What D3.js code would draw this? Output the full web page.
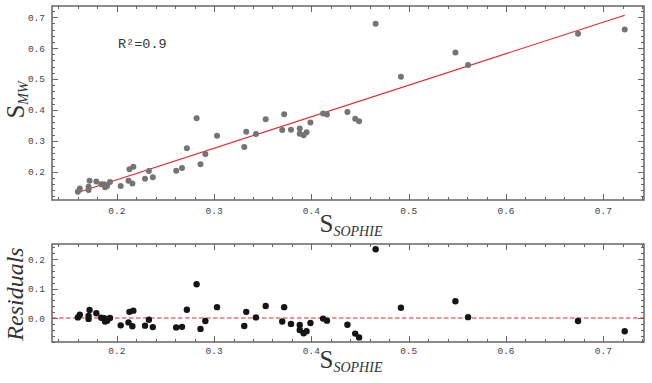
<!DOCTYPE html>
<html><head><meta charset="utf-8">
<script src="https://cdn.jsdelivr.net/npm/d3@7"></script>
<style>body{margin:0;background:#fff}svg{display:block}</style>
</head><body>
<script>
// data
const sSophie = [0.160,0.162,0.171,0.171,0.172,0.179,0.184,0.187,0.188,0.190,0.193,0.204,0.212,0.213,0.216,0.217,0.229,0.233,0.237,0.261,0.267,0.272,0.282,0.286,0.291,0.303,0.331,0.333,0.343,0.353,0.370,0.372,0.379,0.388,0.388,0.392,0.395,0.399,0.412,0.416,0.437,0.445,0.449,0.466,0.492,0.548,0.561,0.674,0.722];
const sMW = [0.135,0.146,0.141,0.151,0.171,0.168,0.159,0.159,0.150,0.154,0.167,0.154,0.171,0.208,0.162,0.216,0.177,0.202,0.182,0.203,0.212,0.276,0.373,0.224,0.257,0.316,0.280,0.329,0.322,0.370,0.335,0.386,0.336,0.340,0.323,0.318,0.328,0.359,0.388,0.385,0.393,0.371,0.363,0.679,0.507,0.586,0.545,0.646,0.660];
const residuals = [0.002,0.011,-0.003,0.007,0.027,0.016,0.001,-0.001,-0.012,-0.009,0.000,-0.025,-0.015,0.021,-0.028,0.025,-0.026,-0.006,-0.031,-0.032,-0.030,0.028,0.115,-0.037,-0.010,0.037,-0.027,0.021,0.002,0.041,-0.012,0.037,-0.020,-0.024,-0.041,-0.052,-0.045,-0.017,-0.002,-0.009,-0.023,-0.053,-0.066,0.234,0.035,0.057,0.003,-0.010,-0.045];
const fitSlope = 1.0205, fitIntercept = -0.0303;
const xTicks = [0.2,0.3,0.4,0.5,0.6,0.7];
const yTicksTop = [0.2,0.3,0.4,0.5,0.6,0.7];
const yTicksRes = [0.0,0.1,0.2];
const r2Label = "R²=0.9";

const W = 652, H = 383;
const svg = d3.select("body").append("svg").attr("width", W).attr("height", H);

const L = 52, R = 644;
const x = d3.scaleLinear().domain([0.1334, 0.7418]).range([L, R]);
const yTop = d3.scaleLinear().domain([0.1084, 0.7362]).range([200, 6]);
const yRes = d3.scaleLinear().domain([-0.0816, 0.2517]).range([342, 244]);

const frameColor = "#666";
const tickFont = "'Liberation Mono', 'DejaVu Sans Mono', monospace";
const serif = "'Liberation Serif', 'DejaVu Serif', serif";

function minorTicks(dom, step) {
  const out = [];
  const s = Math.ceil(dom[0] / step - 1e-9), e = Math.floor(dom[1] / step + 1e-9);
  for (let i = s; i <= e; i++) out.push(+(i * step).toFixed(4));
  return out;
}

function panel(y, yMajor, yMinorStep, xLabelOffset) {
  const g = svg.append("g");
  const [y0, y1] = y.range();
  const xMinor = minorTicks(x.domain(), 0.02);
  const isMajor = (v, maj) => maj.some(m => Math.abs(m - v) < 1e-6);
  const tk = g.append("g").attr("stroke", frameColor).attr("stroke-width", 1);
  xMinor.forEach(v => {
    const len = isMajor(v, xTicks) ? 6 : 3;
    const px = Math.round(x(v)) + 0.5;
    tk.append("line").attr("x1", px).attr("x2", px).attr("y1", y0).attr("y2", y0 - len);
    tk.append("line").attr("x1", px).attr("x2", px).attr("y1", y1).attr("y2", y1 + len);
  });
  const yMinor = minorTicks(y.domain(), yMinorStep);
  yMinor.forEach(v => {
    const len = isMajor(v, yMajor) ? 6 : 3;
    const py = Math.round(y(v)) + 0.5;
    tk.append("line").attr("x1", L).attr("x2", L + len).attr("y1", py).attr("y2", py);
    tk.append("line").attr("x1", R).attr("x2", R - len).attr("y1", py).attr("y2", py);
  });
  g.append("rect").attr("x", L).attr("y", y1).attr("width", R - L).attr("height", y0 - y1)
    .attr("fill", "none").attr("stroke", frameColor).attr("stroke-width", 1.5);
  g.selectAll("text.yt").data(yMajor).enter().append("text")
    .attr("x", L - 7).attr("y", d => y(d) + 3.5).attr("text-anchor", "end")
    .attr("font-family", tickFont).attr("font-size", 9.5).attr("fill", "#444")
    .text(d => d3.format(".1f")(d));
  g.selectAll("text.xt").data(xTicks).enter().append("text")
    .attr("x", d => x(d)).attr("y", y0 + xLabelOffset).attr("text-anchor", "middle")
    .attr("font-family", tickFont).attr("font-size", 9.5).attr("fill", "#444")
    .text(d => d3.format(".1f")(d));
  return g;
}

panel(yTop, yTicksTop, 0.02, 14);
panel(yRes, yTicksRes, 0.02, 12);

const xmin = d3.min(sSophie), xmax = d3.max(sSophie);
svg.append("line")
  .attr("x1", x(xmin)).attr("y1", yTop(fitSlope * xmin + fitIntercept))
  .attr("x2", x(xmax)).attr("y2", yTop(fitSlope * xmax + fitIntercept))
  .attr("stroke", "#e8262a").attr("stroke-width", 1.1);

svg.append("g").selectAll("circle").data(sSophie).enter().append("circle")
  .attr("cx", d => x(d)).attr("cy", (d, i) => yTop(sMW[i])).attr("r", 3)
  .attr("fill", "#747474");

svg.append("line").attr("x1", L).attr("x2", R).attr("y1", yRes(0)).attr("y2", yRes(0))
  .attr("stroke", "#e8262a").attr("stroke-width", 1.1).attr("stroke-dasharray", "4.5,2.5");

svg.append("g").selectAll("circle").data(sSophie).enter().append("circle")
  .attr("cx", d => x(d)).attr("cy", (d, i) => yRes(residuals[i])).attr("r", 3.2)
  .attr("fill", "#151515");

svg.append("text").attr("x", 118).attr("y", 48).attr("font-family", tickFont)
  .attr("font-size", 13.5).attr("fill", "#333").text(r2Label);

function sLabel(tx, ty, rot, sub) {
  const t = svg.append("text").attr("transform", `translate(${tx},${ty}) rotate(${rot})`)
    .attr("text-anchor", "middle").attr("font-family", serif).attr("fill", "#333");
  t.append("tspan").attr("font-size", 25).text("S");
  t.append("tspan").attr("font-size", 14).attr("font-style", "italic").attr("dy", 4).text(sub);
  return t;
}
sLabel(24, 100, -90, "MW");
sLabel(351, 232, 0, "SOPHIE");
sLabel(351, 368, 0, "SOPHIE");

svg.append("text").attr("transform", "translate(23,294) rotate(-90)")
  .attr("text-anchor", "middle").attr("font-family", serif).attr("font-style", "italic")
  .attr("font-size", 24).attr("fill", "#333").text("Residuals");
</script>
</body></html>
